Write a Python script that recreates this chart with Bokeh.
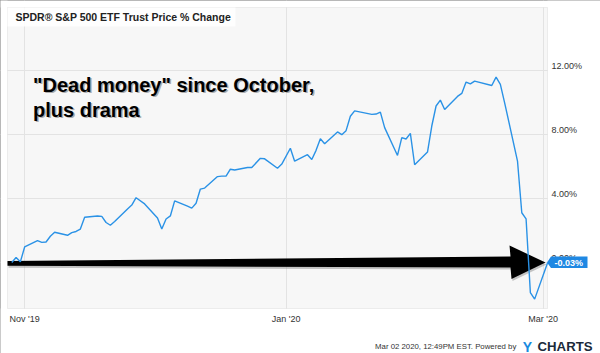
import pandas as pd
from bokeh.plotting import figure
from bokeh.models import (Range1d, FixedTicker, Label, PolyAnnotation, BoxAnnotation,
                          ColumnDataSource)
from bokeh.core.properties import value
from bokeh.embed import file_html
from bokeh.resources import INLINE

# ---------------- data ----------------
dates = [
    "2019-10-29", "2019-10-30", "2019-10-31", "2019-11-01",
    "2019-11-04", "2019-11-05", "2019-11-06", "2019-11-07", "2019-11-08",
    "2019-11-11", "2019-11-12", "2019-11-13", "2019-11-14", "2019-11-15",
    "2019-11-18", "2019-11-19", "2019-11-20", "2019-11-21", "2019-11-22",
    "2019-11-25", "2019-11-26", "2019-11-27", "2019-11-29",
    "2019-12-02", "2019-12-03", "2019-12-04", "2019-12-05", "2019-12-06",
    "2019-12-09", "2019-12-10", "2019-12-11", "2019-12-12", "2019-12-13",
    "2019-12-16", "2019-12-17", "2019-12-18", "2019-12-19", "2019-12-20",
    "2019-12-23", "2019-12-24", "2019-12-26", "2019-12-27",
    "2019-12-30", "2019-12-31", "2020-01-02", "2020-01-03",
    "2020-01-06", "2020-01-07", "2020-01-08", "2020-01-09", "2020-01-10",
    "2020-01-13", "2020-01-14", "2020-01-15", "2020-01-16", "2020-01-17",
    "2020-01-21", "2020-01-22", "2020-01-23", "2020-01-24",
    "2020-01-27", "2020-01-28", "2020-01-29", "2020-01-30", "2020-01-31",
    "2020-02-03", "2020-02-04", "2020-02-05", "2020-02-06", "2020-02-07",
    "2020-02-10", "2020-02-11", "2020-02-12", "2020-02-13", "2020-02-14",
    "2020-02-18", "2020-02-19", "2020-02-20", "2020-02-21",
    "2020-02-24", "2020-02-25", "2020-02-26", "2020-02-27", "2020-02-28",
    "2020-03-02",
]
pct_change = [
    0.00, 0.31, 0.04, 0.97,
    1.37, 1.26, 1.28, 1.64, 1.89,
    1.70, 1.87, 1.94, 2.09, 2.83,
    2.91, 2.88, 2.50, 2.33, 2.56,
    3.35, 3.59, 4.05, 3.66,
    2.78, 2.09, 2.72, 2.91, 3.85,
    3.52, 3.40, 3.70, 4.59, 4.65,
    5.37, 5.40, 5.40, 5.83, 5.78,
    5.94, 5.94, 6.51, 6.48,
    5.89, 6.15, 7.14, 6.33,
    6.74, 6.44, 7.01, 7.73, 7.42,
    8.16, 7.99, 8.24, 9.14, 9.48,
    9.26, 9.28, 9.40, 8.43,
    6.69, 7.81, 7.72, 8.07, 6.11,
    6.90, 8.53, 9.78, 10.15, 9.56,
    10.38, 10.57, 11.28, 11.16, 11.34,
    11.06, 11.59, 11.13, 9.98,
    6.34, 3.11, 2.73, -1.88, -2.29,
    -0.03,
]
x_tick_dates = ["2019-11-01", "2020-01-01", "2020-03-01"]
y_ticks = [0, 4, 8, 12]
title_text = "SPDR\u00ae S&P 500 ETF Trust Price % Change"
note_lines = ['"Dead money" since October,', "plus drama"]
footer_text = "Mar 02 2020, 12:49PM EST.  Powered by"
logo_parts = ["Y", "CHARTS"]

# ---------------- layout constants ----------------
W, H = 600, 353
FL, FR, FT, FB = 7, 547, 7, 308          # plot-area edges in pixels
X0, X1 = "2019-10-28", "2020-03-02"      # x extent of the plot area
Y0, Y1 = -2.875, 15.9375                 # y extent of the plot area
FONT = "Liberation Sans"
BLUE = "#2a92e6"
TAG_BLUE = "#1f88e3"
GRID = "#e3e3e3"


def ms(d):
    return pd.Timestamp(d).value / 1e6


XS, XE = ms(X0), ms(X1)
PX_PER_PCT = (FB - FT) / (Y1 - Y0)


def px_x(px):
    return XS + (px - FL) / (FR - FL) * (XE - XS)


def px_y(py):
    return Y1 - (py - FT) / (FB - FT) * (Y1 - Y0)


x = pd.to_datetime(dates)

# the frame covers the whole canvas so that every text can be drawn in it
p = figure(width=W, height=H, x_axis_type="datetime",
           x_range=Range1d(px_x(0), px_x(W)), y_range=Range1d(px_y(H), px_y(0)),
           x_axis_location=None, y_axis_location=None,
           output_backend="svg", toolbar_location=None,
           min_border=0, background_fill_color="#f7f7f7", border_fill_color="white",
           outline_line_color="#a0a0a0", outline_line_width=2)

# grid lines at the tick positions
p.xgrid.ticker = FixedTicker(ticks=[ms(d) for d in x_tick_dates])
p.ygrid.ticker = FixedTicker(ticks=y_ticks)
p.grid.grid_line_color = GRID
p.grid.grid_line_width = 1

# white surround outside the plot area (covers grid ends)
for kw in (dict(right=XS), dict(left=XE), dict(bottom=Y1), dict(top=Y0)):
    p.add_layout(BoxAnnotation(fill_color="white", fill_alpha=1.0, line_color=None,
                               level="underlay", **kw))
# plot-area border
p.add_layout(BoxAnnotation(left=XS, right=XE, bottom=Y0, top=Y1, fill_alpha=0,
                           line_color="#c9c9c9", line_width=1, level="underlay"))

# big black arrow (annotation) with a soft shadow, under the price line
arrow_px = [(FL, 260.5), (510, 256), (509, 245), (545, 262), (511, 278.5),
            (510, 267), (FL, 265.3)]
p.add_layout(PolyAnnotation(xs=[px_x(a + 1) for a, b in arrow_px],
                            ys=[px_y(b + 2) for a, b in arrow_px],
                            fill_color="#808080", fill_alpha=0.45, line_color=None,
                            level="underlay"))
p.add_layout(PolyAnnotation(xs=[px_x(a) for a, b in arrow_px],
                            ys=[px_y(b) for a, b in arrow_px],
                            fill_color="black", fill_alpha=1.0, line_color=None,
                            level="underlay"))

# price line
p.line(x, pct_change, line_color=BLUE, line_width=1.4)

# x tick labels
xsrc = ColumnDataSource(dict(
    x=pd.to_datetime(x_tick_dates),
    y=[px_y(318.5)] * len(x_tick_dates),
    text=[pd.Timestamp(d).strftime("%b '%y") for d in x_tick_dates]))
p.text(x="x", y="y", text="text", source=xsrc, text_align="center",
       text_baseline="middle", text_font=value(FONT), text_font_size="9px",
       text_color="#333333")

# y tick labels (sit slightly above their grid lines, right of the plot area)
ysrc = ColumnDataSource(dict(
    x=[px_x(551)] * len(y_ticks),
    y=[t + 4.5 / PX_PER_PCT for t in y_ticks],
    text=[f"{t:.2f}%" for t in y_ticks]))
p.text(x="x", y="y", text="text", source=ysrc, text_align="left",
       text_baseline="middle", text_font=value(FONT), text_font_size="9px",
       text_color="#333333")

# title box
p.add_layout(BoxAnnotation(left=XS, right=px_x(235), top=Y1, bottom=px_y(26),
                           fill_color="white", fill_alpha=0.85, line_color=None))
p.add_layout(Label(x=px_x(15), y=px_y(16.5), text=title_text, text_baseline="middle",
                   text_font=FONT, text_font_size="10.5px", text_font_style="bold",
                   text_color="#222222"))

# note text with shadow
for i, line in enumerate(note_lines):
    base = 95 + 25 * i
    p.add_layout(Label(x=px_x(32.5), y=px_y(base), text=line, x_offset=1.5, y_offset=-1.5,
                       text_font=FONT, text_font_size="20px", text_font_style="bold",
                       text_color="#8a8a8a", text_alpha=0.7))
    p.add_layout(Label(x=px_x(32.5), y=px_y(base), text=line,
                       text_font=FONT, text_font_size="20px", text_font_style="bold",
                       text_color="black"))

# last value tag (pointer shape + white text)
last_x, last_y = ms(dates[-1]), pct_change[-1]
tag_px = [(546.5, 262), (550.5, 256), (587, 256), (587, 267.5), (550.5, 267.5)]
p.add_layout(PolyAnnotation(xs=[px_x(a) for a, b in tag_px],
                            ys=[px_y(b) for a, b in tag_px],
                            fill_color=TAG_BLUE, fill_alpha=1.0, line_color=None))
p.add_layout(Label(x=last_x, y=px_y(262), text=f"{last_y:.2f}%", x_offset=7,
                   text_baseline="middle", text_align="left",
                   text_font=FONT, text_font_size="9px", text_font_style="bold",
                   text_color="white"))

# footer
p.add_layout(Label(x=px_x(518), y=px_y(346), text=footer_text, text_align="right",
                   text_baseline="alphabetic", text_font=FONT, text_font_size="7.8px",
                   text_color="#333333"))
p.add_layout(Label(x=px_x(531.5), y=px_y(346), text=logo_parts[0], text_align="right",
                   text_baseline="alphabetic", text_font=FONT, text_font_size="14px",
                   text_font_style="bold", text_color="#1a8be0"))
p.add_layout(Label(x=px_x(592), y=px_y(346), text=logo_parts[1], text_align="right",
                   text_baseline="alphabetic", text_font=FONT, text_font_size="13.2px",
                   text_font_style="bold", text_color="#1b2a3a"))

open("out.html", "w").write(file_html(p, INLINE))
